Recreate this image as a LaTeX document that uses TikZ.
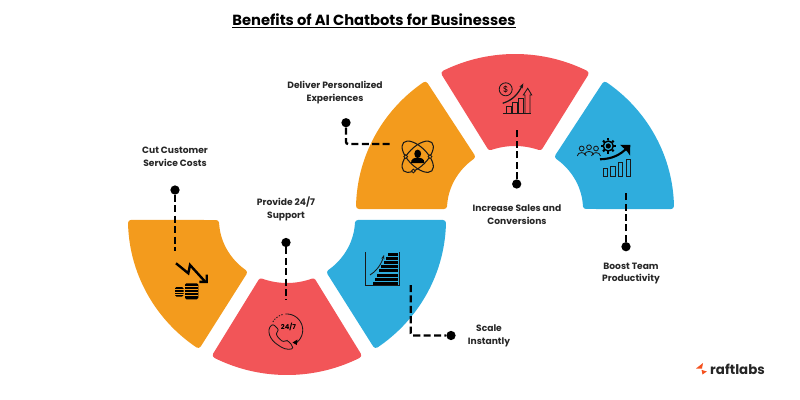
\documentclass[tikz,border=0pt]{standalone}
\usepackage{fontspec}
\setmainfont{Poppins}
\usepackage{tikz}
\usetikzlibrary{arrows.meta}

\definecolor{petalorange}{HTML}{F39B1D}
\definecolor{petalred}{HTML}{F25558}
\definecolor{petalblue}{HTML}{2FADDD}
\definecolor{logored}{HTML}{F4511E}

\tikzset{
  leader/.style={line width=1.7pt, black, dash pattern=on 5pt off 2.4pt},
  dot/.style={circle, fill=black, inner sep=0pt, minimum size=6.6pt},
  caption/.style={align=center, font=\fontsize{6.5}{9.2}\selectfont\bfseries, text=black!85},
  icon/.style={line width=0.6pt, black!90}
}

% one ring segment, inset by 3px and stroked back out for the round corners
\newcommand{\petal}[7]{
  \pgfmathsetmacro{\oa}{#3+1.1}
  \pgfmathsetmacro{\ob}{#4-1.1}
  \pgfmathsetmacro{\ia}{#5+2.6}
  \pgfmathsetmacro{\ib}{#6-2.6}
  \filldraw[fill=#7, draw=#7, line width=4.27pt, line join=round]
    plot[domain=0:1, samples=50, variable=\t] ({#1+156*cos(\oa+(\ob-\oa)*\t)}, {#2-152*sin(\oa+(\ob-\oa)*\t)})
    -- plot[domain=0:1, samples=30, variable=\t] ({#1+71*cos(\ib+(\ia-\ib)*\t)}, {#2-66*sin(\ib+(\ia-\ib)*\t)})
    -- cycle;
}

\begin{document}
\begin{tikzpicture}[>=stealth, x=0.025cm, y=-0.025cm]
\useasboundingbox (0,0) rectangle (800,400);

\node[font=\fontsize{10.45}{12}\selectfont\bfseries] (title) at (374,21) {\underline{Benefits of AI Chatbots for Businesses}};

% lower ring
\petal{287}{220}{180}{236.4}{180}{235.3}{petalorange}
\petal{287}{220}{241.7}{298.3}{246}{294}{petalred}
\petal{287}{220}{303.6}{360}{304.7}{360}{petalblue}

% upper ring
\petal{515}{209}{124.1}{180}{124.7}{180}{petalorange}
\petal{515}{209}{62}{118}{67}{113}{petalred}
\petal{515}{209}{0}{55.9}{0}{55.3}{petalblue}

% falling arrow and coins
\draw[line width=1.7pt] (176,263.3) -- (188.3,273.3) -- (190,265) -- (205,281.5);
\fill (199.3,280.5) -- (205.5,280.5) -- (205.5,274.5) -- (207.8,274.5) -- (207.8,283.2) -- (199.3,283.2) -- cycle;
\fill[rounded corners=1pt] (175,287) rectangle (183.5,296.5);
\fill[rounded corners=1pt] (185,283.3) rectangle (198.3,299.3);
\foreach \yy in {289.5,292,294.5} {\draw[petalorange, line width=0.3pt] (175,\yy) -- (183.5,\yy);}
\foreach \yy in {286.5,289.5,292.5,295.5} {\draw[petalorange, line width=0.3pt] (185,\yy) -- (198.3,\yy);}

% 24/7 phone
\draw[icon] plot[domain=-95:55, samples=40, variable=\t] ({286.7+16*cos(\t)}, {330+16*sin(\t)});
\draw[icon, dashed, dash pattern=on 1pt off 1pt] plot[domain=-150:-105, samples=15, variable=\t] ({286.7+16*cos(\t)}, {330+16*sin(\t)});
\fill (296.8,345) -- (292.5,342.5) -- (297.5,339.5) -- cycle;
\draw[icon, rounded corners=1.5pt] (273,324) .. controls (266,330) and (270,340) .. (279,345.5) .. controls (285,350) and (293,350) .. (292.5,345.5) -- (287,340) -- (283.5,342) .. controls (279,339) and (277,336) .. (276,333) -- (279,330) -- cycle;
\node[font=\fontsize{4.8}{5}\selectfont\bfseries, inner sep=0pt] (phonetext) at (288.5,327) {24/7};

% stairs chart
\draw[icon] (365,252) -- (365,285.5) -- (399,285.5) -- (399,252);
\foreach \i in {0,...,7} {
  \fill ({388-\i*2.2},{253+\i*4.1}) rectangle (398,{256+\i*4.1});
}
\draw[icon, ->, >={Stealth[length=3pt]}] (370,275) .. controls (376,271.5) and (381,265) .. (384,255);

% person in orbit
\draw[icon, line width=0.75pt, rotate around={45:(417.7,156.7)}] (417.7,156.7) ellipse[x radius=20, y radius=9.5];
\draw[icon, line width=0.75pt, rotate around={-45:(417.7,156.7)}] (417.7,156.7) ellipse[x radius=20, y radius=9.5];
\fill (417.7,153.8) ellipse[x radius=3.4, y radius=4.2];
\fill (411,163) .. controls (411,158.5) and (414,158) .. (417.7,157.5) .. controls (421.4,158) and (424.4,158.5) .. (424.4,163) -- cycle;
\filldraw[icon, fill=petalorange] (405.7,156.7) circle[radius=1.9];
\filldraw[icon, fill=petalorange] (430,156.7) circle[radius=1.9];
\filldraw[icon, fill=petalorange] (413.3,171) circle[radius=1.9];

% sales growth
\draw[icon] (505.7,89.3) circle[radius=6.5];
\node[font=\fontsize{6}{6}\selectfont, inner sep=0pt] (dollar) at (505.7,89.3) {\$};
\draw[icon] (503.3,113) -- (531,113);
\draw[icon] (506.7,113) -- (506.7,106) -- (511,106) -- (511,113);
\draw[icon] (512.3,113) -- (512.3,102.3) -- (517,102.3) -- (517,113);
\draw[icon] (518.3,113) -- (518.3,98.3) -- (523.3,98.3) -- (523.3,113);
\draw[icon] (525,113) -- (525,95) -- (523.3,95) -- (527.7,88.3) -- (531.7,95) -- (530,95) -- (530,113);
\draw[icon, line width=0.9pt, ->, >={Stealth[length=3.5pt]}] (502.7,103.3) .. controls (513,100) and (518,94) .. (523.3,83.3);

% team, gear and arrow
\foreach \px/\py in {581.7/148.5,589/147.3,596/148.5} {
  \draw[icon] (\px,\py) circle[radius=2.4];
  \draw[icon] ({\px-4.5},{\py+7.5}) .. controls ({\px-4},{\py+3}) and ({\px+4},{\py+3}) .. ({\px+4.5},{\py+7.5});
}
\foreach \a in {0,45,...,315} {
  \draw[line width=1.5pt] ({608.3+5.5*cos(\a)},{146+5.5*sin(\a)}) -- ({608.3+7.5*cos(\a)},{146+7.5*sin(\a)});
}
\draw[line width=1pt] (608.3,146) circle[radius=5];
\fill (608.3,146) circle[radius=2.6];
\draw[line width=1.5pt] (600,159.3) .. controls (612,159) and (620,155) .. (627,148);
\fill (620,144.8) -- (630.3,144.8) -- (630,155.5) -- (627.5,152) -- (623.5,148) -- cycle;
\draw[icon] (603.3,176) rectangle (607.7,168.3);
\draw[icon] (610.7,176) rectangle (615,166);
\draw[icon] (618.3,176) rectangle (622.7,162.7);
\draw[icon] (626,176) rectangle (630.7,159.3);

% leaders
\node[dot] (dotcut) at (175,190) {};
\coordinate (cutend) at (175,251);
\draw[leader] (dotcut) -- (cutend);

\node[dot] (dotsupport) at (286,242.5) {};
\coordinate (supportend) at (286,300);
\draw[leader] (dotsupport) -- (supportend);

\node[dot] (dotscale) at (451,335.5) {};
\coordinate (scaleend) at (410.7,285);
\draw[leader, rounded corners=1.5pt] (scaleend) |- (dotscale);

\node[dot] (dotdeliver) at (346,122.7) {};
\coordinate (deliverend) at (391.5,144);
\draw[leader, rounded corners=1.5pt] (dotdeliver) |- (deliverend);

\node[dot] (dotsales) at (516.7,184) {};
\coordinate (salesend) at (516.7,128);
\draw[leader] (dotsales) -- (salesend);

\node[dot] (dotboost) at (626,246.7) {};
\coordinate (boostend) at (626,190.7);
\draw[leader] (dotboost) -- (boostend);

% captions
\node[caption] (cut) at (175,156.5) {Cut Customer\\Service Costs};
\node[caption] (support) at (286,208.5) {Provide 24/7\\Support};
\node[caption] (deliver) at (335,92.5) {Deliver Personalized\\Experiences};
\node[caption] (sales) at (517,214.5) {Increase Sales and\\Conversions};
\node[caption] (boost) at (631,273.5) {Boost Team\\Productivity};
\node[caption] (scale) at (489,335.5) {Scale\\Instantly};

% logo
\fill[logored] (696,368.5) -- (703,363) -- (702,368.5) -- cycle;
\fill[logored] (701.5,369.8) -- (706.8,371.5) -- (702.5,374.5) -- cycle;
\node[font=\fontsize{9.5}{10}\selectfont\bfseries, inner sep=0pt, text=black!85] (raftlabs) at (737.5,369) {raftlabs};

\end{tikzpicture}
\end{document}
